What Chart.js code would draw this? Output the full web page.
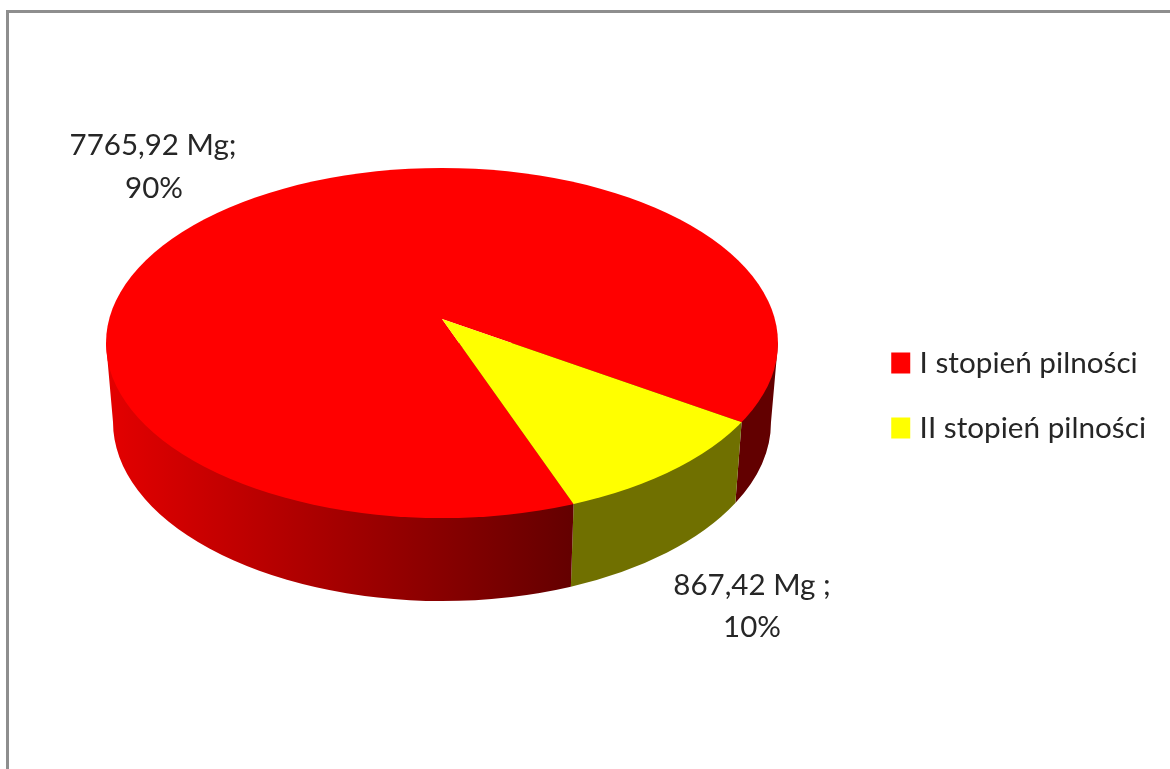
<!DOCTYPE html>
<html><head><meta charset="utf-8">
<style>html,body{margin:0;padding:0;background:#fff}canvas{display:block}</style>
<script src="https://cdn.jsdelivr.net/npm/chart.js@4"></script></head>
<body><canvas id="c" width="1170" height="769"></canvas>
<script>
const categories = ["I stopień pilności", "II stopień pilności"];
const valuesMg = [7765.92, 867.42];
const sliceColors = ["#ff0000", "#ffff00"];
const labelLines = [["7765,92 Mg;", "90%"], ["867,42 Mg ;", "10%"]];

const FONT = '"Lato","Open Sans",sans-serif';
const TEXT = '#262626';
const apex = {x: 442, y: 319}, squash = 0.52;
const top3d = {x: 442, y: 343, rx: 336, ry: 175};
const low3d = {x: 442, y: 422, rx: 329, ry: 179};
const labelPos = [[{x:153,y:145},{x:154,y:188}], [{x:752,y:585},{x:752,y:627}]];

function rayT(a) {
  const dx = Math.cos(a), dy = squash * Math.sin(a);
  const ox = (apex.x - top3d.x) / top3d.rx, oy = (apex.y - top3d.y) / top3d.ry;
  const ux = dx / top3d.rx, uy = dy / top3d.ry;
  const A = ux*ux + uy*uy, B = 2*(ox*ux + oy*uy), C = ox*ox + oy*oy - 1;
  const d = (-B + Math.sqrt(B*B - 4*A*C)) / (2*A);
  return Math.atan2(oy + d*uy, ox + d*ux);
}
function wall(ctx, t1, t2, fill) {
  ctx.beginPath();
  ctx.ellipse(low3d.x, low3d.y, low3d.rx, low3d.ry, 0, t2, t1, true);
  ctx.lineTo(top3d.x + top3d.rx*Math.cos(t1), top3d.y + top3d.ry*Math.sin(t1));
  ctx.lineTo(top3d.x, top3d.y);
  ctx.lineTo(top3d.x + top3d.rx*Math.cos(t2), top3d.y + top3d.ry*Math.sin(t2));
  ctx.closePath();
  ctx.fillStyle = fill;
  ctx.fill();
}
const pie3d = {
  id: 'pie3d',
  beforeDraw(chart) {
    const ctx = chart.ctx;
    ctx.save();
    ctx.fillStyle = '#8e8e8e';
    ctx.fillRect(6, 10, 1164, 3);
    ctx.fillRect(6, 10, 3, 759);
    ctx.restore();
  },
  beforeDatasetDraw(chart) {
    const ctx = chart.ctx, arcs = chart.getDatasetMeta(0).data;
    const tA = rayT(arcs[1].startAngle), tB = rayT(arcs[1].endAngle);
    const g = ctx.createLinearGradient(106, 0, 572, 0);
    g.addColorStop(0, '#e40000');
    g.addColorStop(1, '#640000');
    ctx.save();
    wall(ctx, 0, tA, '#620000');
    wall(ctx, tA, tB, '#707000');
    wall(ctx, tB, Math.PI, g);
    ctx.restore();
    ctx.save();
    ctx.beginPath();
    ctx.ellipse(top3d.x, top3d.y, top3d.rx, top3d.ry, 0, 0, Math.PI*2);
    ctx.clip();
    const a = arcs[0], k = 430 / a.outerRadius;
    ctx.translate(apex.x, apex.y);
    ctx.scale(k, k * squash);
    ctx.translate(-a.x, -a.y);
  },
  afterDatasetDraw(chart) { chart.ctx.restore(); },
  afterDraw(chart) {
    const ctx = chart.ctx;
    ctx.save();
    ctx.font = '29.5px ' + FONT;
    ctx.fillStyle = TEXT;
    ctx.textAlign = 'center';
    ctx.textBaseline = 'middle';
    labelLines.forEach((lines, i) => lines.forEach((s, j) => ctx.fillText(s, labelPos[i][j].x, labelPos[i][j].y)));
    ctx.restore();
  }
};
new Chart(document.getElementById('c'), {
  type: 'pie',
  data: { labels: categories, datasets: [{ data: valuesMg, backgroundColor: sliceColors, borderWidth: 0, clip: false }] },
  options: {
    responsive: false,
    animation: false,
    rotation: 159.7,
    layout: { padding: { top: 22, right: 14, bottom: 0, left: 0 } },
    plugins: {
      tooltip: { enabled: false },
      legend: {
        position: 'right',
        labels: {
          boxWidth: 8, boxHeight: 10, padding: 35.3, color: TEXT, font: { family: FONT, size: 29.7 },
          generateLabels: (chart) => Chart.overrides.pie.plugins.legend.labels.generateLabels(chart)
            .map(it => ({ ...it, lineWidth: 11, strokeStyle: it.fillStyle }))
        }
      }
    }
  },
  plugins: [pie3d]
});
</script></body></html>
